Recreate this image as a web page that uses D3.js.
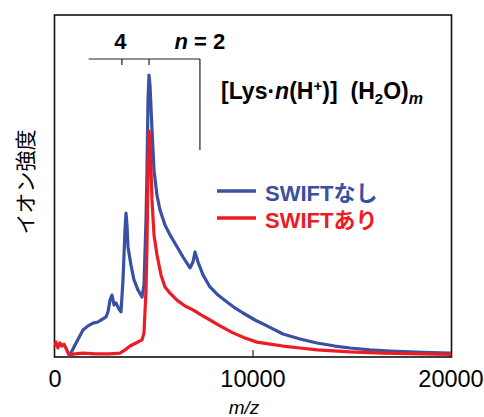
<!DOCTYPE html>
<html>
<head>
<meta charset="utf-8">
<script src="https://cdn.jsdelivr.net/npm/d3@7"></script>
<style>
  body { margin: 0; background: white; }
  text { font-family: "Liberation Sans", Arial, sans-serif; }
</style>
</head>
<body>
<svg id="chart" width="484" height="417"></svg>
<script>
// m/z values and relative intensity (% of tallest peak)
blue_mz = [757, 1010, 1414, 1667, 1919, 2172, 2424, 2576, 2677, 2778, 2879, 2980, 3080, 3232, 3333, 3434, 3535, 3586, 3636, 3687, 3838, 3990, 4192, 4394, 4495, 4596, 4646, 4697, 4747, 4798, 4899, 5000, 5151, 5303, 5555, 5808, 6111, 6464, 6818, 6969, 7070, 7222, 7474, 7828, 8232, 8686, 9090, 9494, 10100, 10706, 11514, 12373, 13231, 14140, 14898, 15908, 16918, 17928, 18938, 20000];
blue_int = [0, 3.6, 8.9, 10.4, 11.4, 11.8, 12.9, 13.6, 15.4, 19.6, 21.4, 17.9, 18.6, 16.4, 15.4, 26.8, 44.6, 50.7, 46.4, 38.6, 32.1, 26.8, 23.2, 20.7, 25, 48.2, 66, 91, 100, 96.4, 80.4, 66, 57, 51.8, 46.4, 42.9, 39.3, 35, 31.1, 33.2, 36.8, 33.2, 28.6, 24.3, 21.4, 18.9, 16.8, 15, 12.5, 10.4, 7.5, 5.7, 4.3, 3.2, 2.5, 1.8, 1.4, 1.1, 0.9, 0.7];

red_mz = [0, 50, 150, 250, 350, 450, 550, 707, 1010, 1414, 2020, 2778, 3283, 3535, 3787, 4090, 4394, 4495, 4596, 4646, 4697, 4747, 4798, 4899, 5000, 5151, 5353, 5555, 5808, 6161, 6565, 6969, 7373, 7828, 8333, 8989, 9595, 10201, 10858, 11514, 12373, 13231, 14898, 16564, 18433, 20000];
red_int = [2.9, 4.6, 2.5, 4.3, 3.2, 3.9, 2.5, 0, 0.4, 0.7, 0.4, 0.4, 0.7, 1.8, 3.2, 4.3, 5.4, 7.9, 23.2, 39.3, 66, 80, 76.8, 55.4, 42.9, 35.7, 28.6, 24.3, 22.1, 19.6, 17.5, 16.1, 14.3, 12.5, 10.4, 7.9, 6.1, 4.6, 3.9, 3.2, 2.5, 1.8, 1.1, 0.7, 0.4, 0.2];

x_ticks = [0, 10000, 20000];
// charge-state markers for [Lys + nH]n+
bracket_mz = [1700, 3380, 4750, 7320];
bracket_labels = [{ mz: 3300, text: "4" }, { mz: 7320, text: "n = 2" }];

series_names = ["SWIFTなし", "SWIFTあり"];
series_colors = ["#3a50a2", "#ed1c24"];

plot_left = 55, plot_right = 451, plot_top = 15, plot_bottom = 357;

var svg = d3.select("#chart");

var x = d3.scaleLinear().domain([0, 20000]).range([plot_left, plot_right]);
var y = d3.scaleLinear().domain([0, 100]).range([355, 75]);

// frame
svg.append("rect")
    .attr("x", plot_left - 0.5).attr("y", plot_top)
    .attr("width", plot_right - plot_left + 1).attr("height", plot_bottom - plot_top)
    .attr("fill", "none").attr("stroke", "#111").attr("stroke-width", 1.6);

// inner tick at 10000
svg.append("line")
    .attr("x1", x(10000)).attr("x2", x(10000))
    .attr("y1", plot_bottom).attr("y2", plot_bottom - 7)
    .attr("stroke", "#222").attr("stroke-width", 1.2);

svg.selectAll(".xt")
    .data(x_ticks)
    .enter().append("text")
    .attr("x", function (d) { return x(d); })
    .attr("y", 387)
    .attr("text-anchor", "middle")
    .attr("font-size", 23.5)
    .text(function (d) { return d; });

svg.append("text")
    .attr("x", 244).attr("y", 414)
    .attr("text-anchor", "middle")
    .attr("font-size", 19)
    .attr("font-style", "italic")
    .text("m/z");

svg.append("text")
    .attr("transform", "translate(33,182) rotate(-90)")
    .attr("text-anchor", "middle")
    .attr("font-size", 21)
    .style("font-family", "'Noto Sans CJK JP', sans-serif")
    .text("イオン強度");

// spectra
var line = d3.line()
    .x(function (d) { return x(d[0]); })
    .y(function (d) { return y(d[1]); });

var blue = blue_mz.map(function (m, i) { return [m, blue_int[i]]; });
var red = red_mz.map(function (m, i) { return [m, red_int[i]]; });

[blue, red].forEach(function (s, i) {
    svg.append("path")
        .datum(s)
        .attr("d", line)
        .attr("fill", "none")
        .attr("stroke", series_colors[i])
        .attr("stroke-width", 3.2)
        .attr("stroke-linejoin", "round");
});

// charge-state bracket
var by = 59;
svg.append("line")
    .attr("x1", x(bracket_mz[0])).attr("x2", x(bracket_mz[3]))
    .attr("y1", by).attr("y2", by)
    .attr("stroke", "#222").attr("stroke-width", 1.2);
bracket_mz.slice(1).forEach(function (m, i) {
    svg.append("line")
        .attr("x1", x(m)).attr("x2", x(m))
        .attr("y1", by).attr("y2", i == 2 ? 150 : by + 6)
        .attr("stroke", "#222").attr("stroke-width", 1.2);
});
svg.selectAll(".bl")
    .data(bracket_labels)
    .enter().append("text")
    .attr("x", function (d) { return x(d.mz); })
    .attr("y", 49)
    .attr("text-anchor", "middle")
    .attr("font-size", 22)
    .attr("font-weight", "bold")
    .html(function (d) { return d.text == "4" ? "4" : "<tspan font-style='italic'>n</tspan> = 2"; });

// formula label
var f = svg.append("text")
    .attr("x", 221).attr("y", 99)
    .attr("font-size", 23)
    .attr("font-weight", "bold");
f.append("tspan").text("[Lys·");
f.append("tspan").attr("font-style", "italic").text("n");
f.append("tspan").text("(H");
f.append("tspan").attr("font-size", 15).attr("dy", -8).text("+");
f.append("tspan").attr("dy", 8).text(")]");
f.append("tspan").attr("dx", 13).text("(H");
f.append("tspan").attr("font-size", 15).attr("dy", 5).text("2");
f.append("tspan").attr("dy", -5).text("O)");
f.append("tspan").attr("font-size", 16).attr("dy", 5).attr("font-style", "italic").text("m");

// legend
series_names.forEach(function (name, i) {
    var ly = 191 + i * 27;
    svg.append("line")
        .attr("x1", 217).attr("x2", 256)
        .attr("y1", ly).attr("y2", ly)
        .attr("stroke", series_colors[i]).attr("stroke-width", 3.5);
    svg.append("text")
        .attr("x", 265).attr("y", ly + 10)
        .attr("font-size", 22)
        .attr("font-weight", "bold")
        .attr("fill", series_colors[i])
        .style("font-family", "'Liberation Sans', 'Noto Sans CJK JP', sans-serif")
        .text(name);
});
</script>
</body>
</html>
